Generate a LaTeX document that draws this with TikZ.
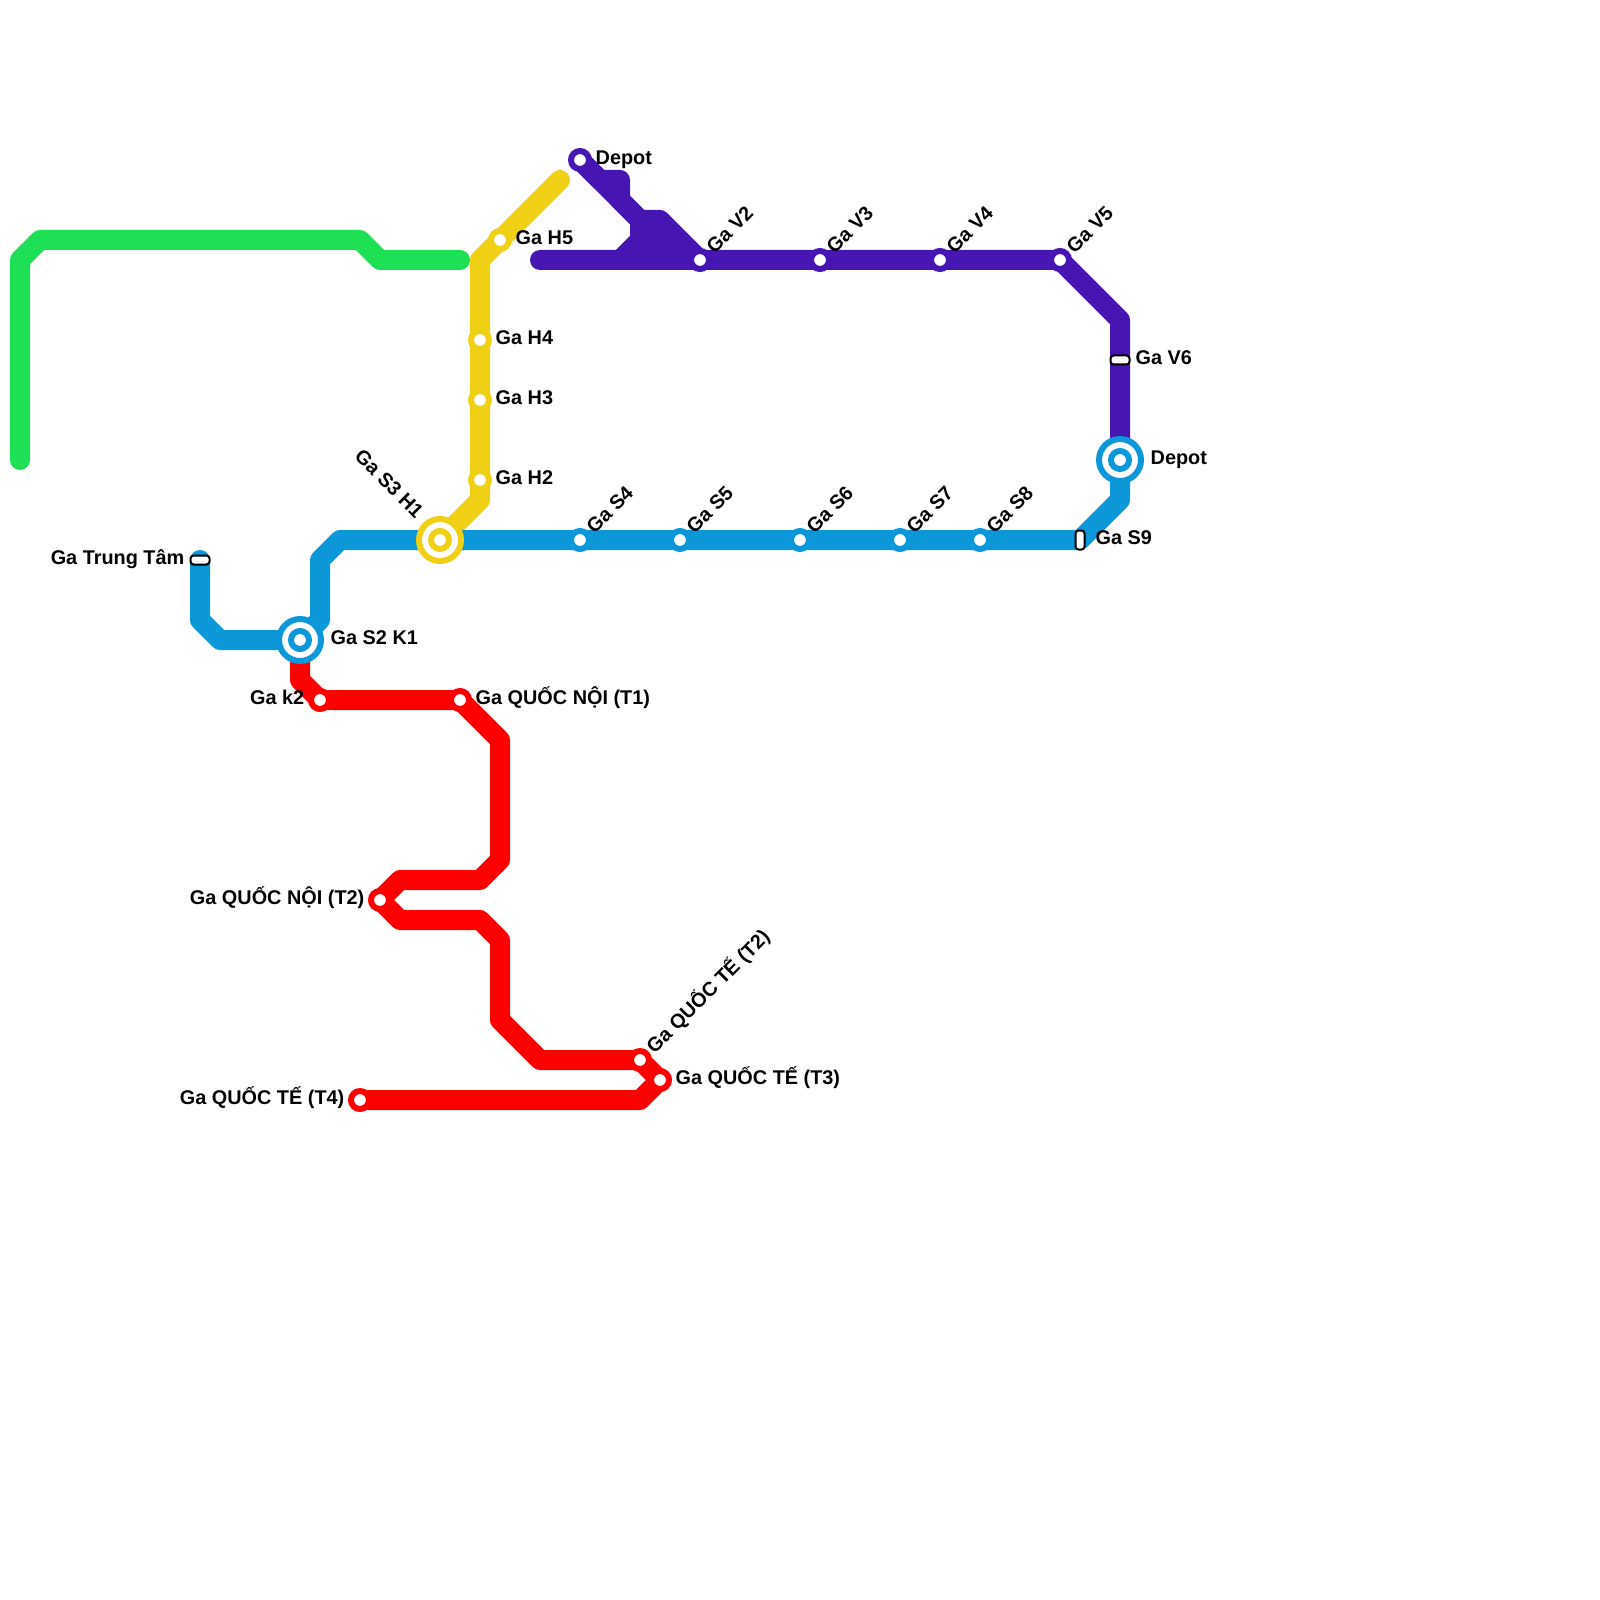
\documentclass[tikz,border=0pt]{standalone}
\usepackage{fontspec}
\setmainfont{Liberation Sans}
\usepackage{xcolor}
\usetikzlibrary{positioning, backgrounds}
\definecolor{linegreen}{RGB}{30, 224, 85}
\definecolor{lineyellow}{RGB}{240, 208, 21}
\definecolor{lineblue}{RGB}{11, 151, 216}
\definecolor{linepurple}{RGB}{70, 21, 178}
\definecolor{linered}{RGB}{255, 0, 0}

\begin{document}
\begin{tikzpicture}[
  x=2mm, y=-2mm,
  font=\fontsize{5.65pt}{6pt}\selectfont\bfseries,
  route/.style={line width=2mm, line cap=round, line join=round, draw=#1},
  stn/.style={circle, draw=#1, fill=white, line width=.6mm, minimum size=1.8mm, inner sep=0pt},
  hubring/.style={circle, draw=#1, fill=white, line width=.6mm, minimum size=4.2mm, inner sep=0pt},
  tickh/.style={draw=black, fill=white, rounded corners=.3mm, line width=.2mm, inner sep=0pt,
    minimum width=1.9mm, minimum height=.9mm},
  tickv/.style={tickh, minimum width=.9mm, minimum height=1.9mm},
  lbl/.style={inner sep=0pt, text height=1.3mm, text depth=.35mm},
  upl/.style={lbl, rotate=45, anchor=west, xshift=1.36mm, yshift=-.17mm}
]
  \useasboundingbox (0,0) rectangle (80,80);

  \coordinate (greenend) at (1,23);
  \coordinate (greentail) at (23,13);
  \coordinate (yellowend) at (28,9);
  \coordinate (purpleend) at (27,13);

  \node[tickh] (trungtam) at (10,28) {};
  \node[hubring=lineblue] (s2) at (15,32) {};
  \node[stn=lineblue] (s2core) at (15,32) {};
  \node[hubring=lineyellow] (s3) at (22,27) {};
  \node[stn=lineyellow] (s3core) at (22,27) {};
  \node[stn=lineblue] (s4) at (29,27) {};
  \node[stn=lineblue] (s5) at (34,27) {};
  \node[stn=lineblue] (s6) at (40,27) {};
  \node[stn=lineblue] (s7) at (45,27) {};
  \node[stn=lineblue] (s8) at (49,27) {};
  \node[tickv] (s9) at (54,27) {};
  \node[hubring=lineblue] (depotb) at (56,23) {};
  \node[stn=lineblue] (depotbcore) at (56,23) {};

  \node[stn=lineyellow] (h2) at (24,24) {};
  \node[stn=lineyellow] (h3) at (24,20) {};
  \node[stn=lineyellow] (h4) at (24,17) {};
  \node[stn=lineyellow] (h5) at (25,12) {};

  \node[stn=linepurple] (depotv) at (29,8) {};
  \node[stn=linepurple] (v2) at (35,13) {};
  \node[stn=linepurple] (v3) at (41,13) {};
  \node[stn=linepurple] (v4) at (47,13) {};
  \node[stn=linepurple] (v5) at (53,13) {};
  \node[tickh] (v6) at (56,18) {};

  \node[stn=linered] (k2) at (16,35) {};
  \node[stn=linered] (qn1) at (23,35) {};
  \node[stn=linered] (qn2) at (19,45) {};
  \node[stn=linered] (qt2) at (32,53) {};
  \node[stn=linered] (qt3) at (33,54) {};
  \node[stn=linered] (qt4) at (18,55) {};

  \begin{scope}[on background layer]
    \draw[route=linegreen] (greenend) -- (1,13) -- (2,12) -- (18,12) -- (19,13) -- (greentail);
    \draw[route=lineyellow] (yellowend) -- (h5.center) -- (24,13) -- (h4.center) -- (h3.center)
      -- (h2.center) -- (24,25) -- (s3.center);
    \draw[route=linepurple] (depotv.center) -- (30,9) -- (31,9) -- (31,10) -- (32,11) -- (33,11) -- (v2.center);
    \draw[route=linepurple] (depotv.center) -- (34,13);
    \draw[route=linepurple] (32,11) -- (32,12) -- (31,13);
    \draw[route=linepurple] (32,12) -- (33,12);
    \draw[route=linepurple] (purpleend) -- (v2.center) -- (v3.center) -- (v4.center) -- (v5.center)
      -- (56,16) -- (v6.center) -- (depotb.center);
    \draw[route=linered] (s2.center) -- (15,34) -- (k2.center) -- (qn1.center) -- (25,37) -- (25,43)
      -- (24,44) -- (20,44) -- (qn2.center) -- (20,46) -- (24,46) -- (25,47) -- (25,51) -- (27,53)
      -- (qt2.center) -- (qt3.center) -- (32,55) -- (qt4.center);
    \draw[route=lineblue] (trungtam.center) -- (10,31) -- (11,32) -- (s2.center) -- (16,31) -- (16,28)
      -- (17,27) -- (s3.center) -- (s4.center) -- (s5.center) -- (s6.center) -- (s7.center) -- (s8.center)
      -- (s9.center) -- (56,25) -- (depotb.center);
  \end{scope}

  \node[lbl, left=1.5mm of trungtam.center] (ltrungtam) {Ga Trung Tâm};
  \node[lbl, right=3mm of s2.center] (ls2) {Ga S2 K1};
  \node[lbl, rotate=-45, anchor=east, xshift=-.75mm, yshift=.2mm] (ls3) at (s3.north west) {Ga S3 H1};
  \node[upl] (ls4) at (s4) {Ga S4};
  \node[upl] (ls5) at (s5) {Ga S5};
  \node[upl] (ls6) at (s6) {Ga S6};
  \node[upl] (ls7) at (s7) {Ga S7};
  \node[upl] (ls8) at (s8) {Ga S8};
  \node[lbl, right=1.5mm of s9.center] (ls9) {Ga S9};
  \node[lbl, right=3mm of depotb.center] (ldepotb) {Depot};
  \node[lbl, right=1.5mm of h2.center] (lh2) {Ga H2};
  \node[lbl, right=1.5mm of h3.center] (lh3) {Ga H3};
  \node[lbl, right=1.5mm of h4.center] (lh4) {Ga H4};
  \node[lbl, right=1.5mm of h5.center] (lh5) {Ga H5};
  \node[lbl, right=1.5mm of depotv.center] (ldepotv) {Depot};
  \node[upl] (lv2) at (v2) {Ga V2};
  \node[upl] (lv3) at (v3) {Ga V3};
  \node[upl] (lv4) at (v4) {Ga V4};
  \node[upl] (lv5) at (v5) {Ga V5};
  \node[lbl, right=1.5mm of v6.center] (lv6) {Ga V6};
  \node[lbl, left=1.5mm of k2.center] (lk2) {Ga k2};
  \node[lbl, right=1.5mm of qn1.center] (lqn1) {Ga QUỐC NỘI (T1)};
  \node[lbl, left=1.5mm of qn2.center] (lqn2) {Ga QUỐC NỘI (T2)};
  \node[upl] (lqt2) at (qt2) {Ga QUỐC TẾ (T2)};
  \node[lbl, right=1.5mm of qt3.center] (lqt3) {Ga QUỐC TẾ (T3)};
  \node[lbl, left=1.5mm of qt4.center] (lqt4) {Ga QUỐC TẾ (T4)};
\end{tikzpicture}
\end{document}
